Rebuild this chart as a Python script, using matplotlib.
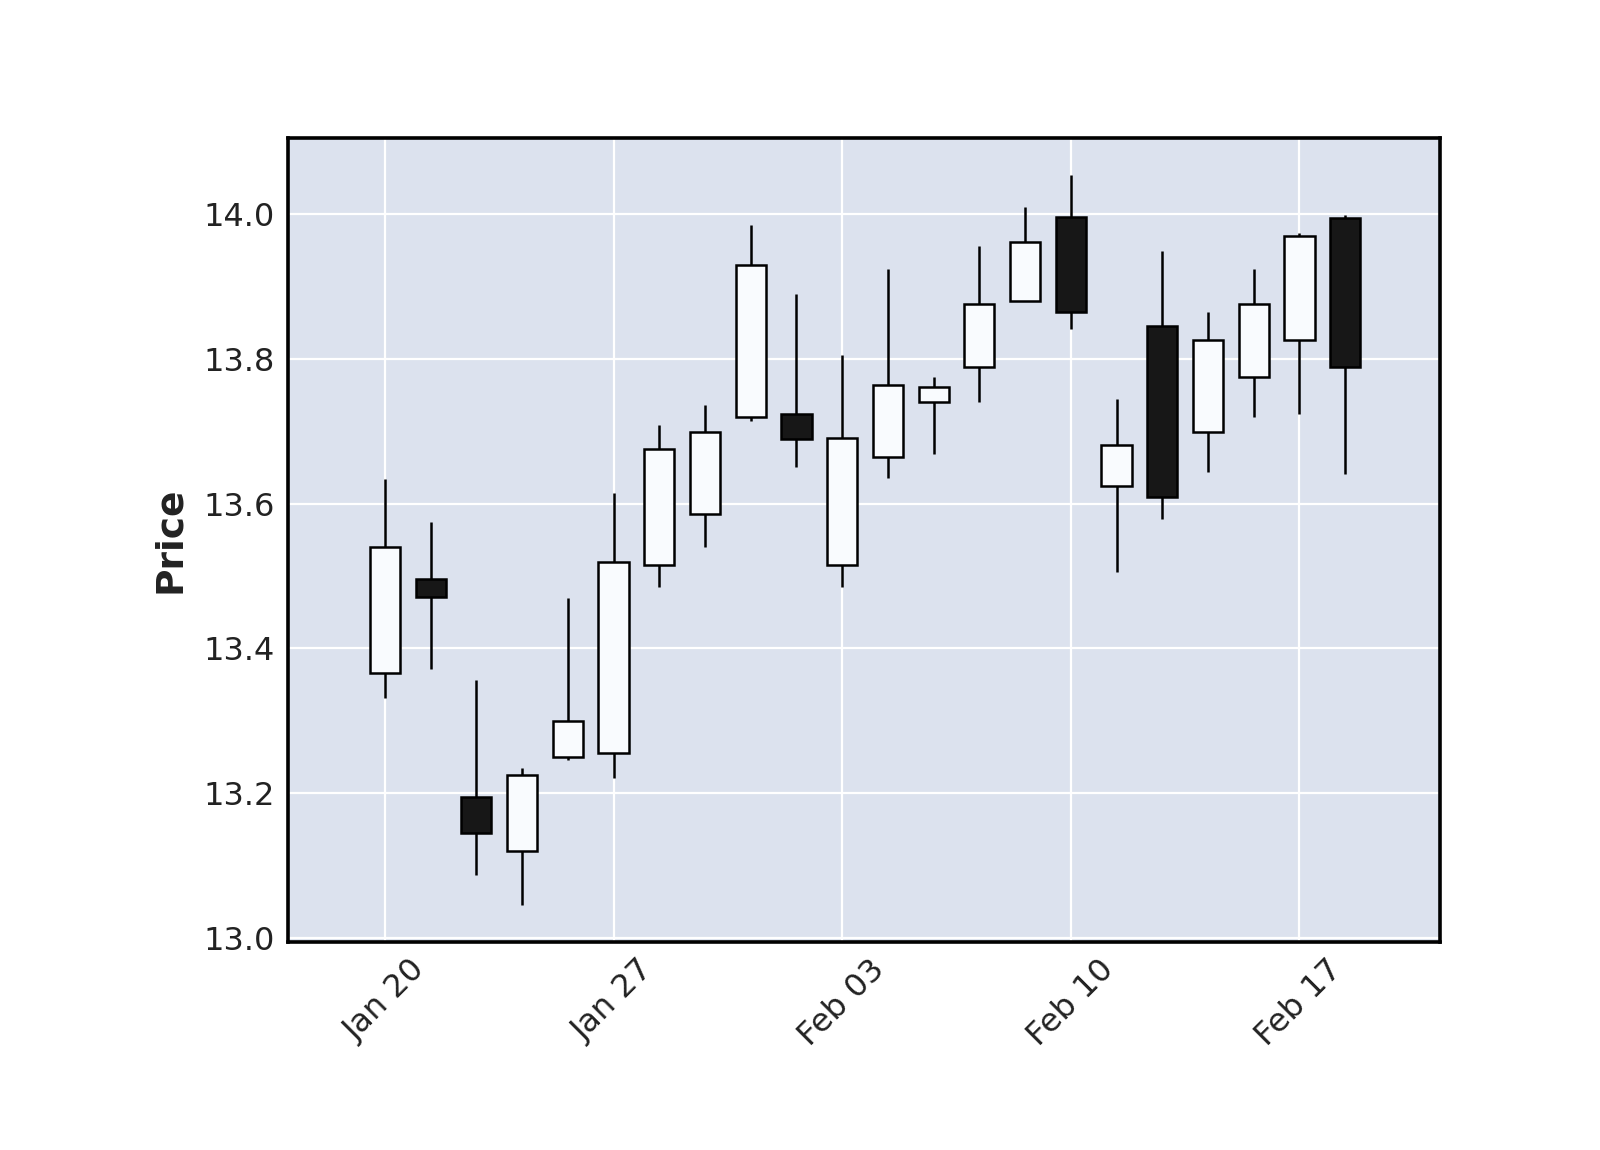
from matplotlib import pyplot as plt
import numpy as np

# Daily OHLC, business days only (Jan 20 - Feb 18)
dates = ['Jan 20', 'Jan 21', 'Jan 22', 'Jan 23', 'Jan 24',
         'Jan 27', 'Jan 28', 'Jan 29', 'Jan 30', 'Jan 31',
         'Feb 03', 'Feb 04', 'Feb 05', 'Feb 06', 'Feb 07',
         'Feb 10', 'Feb 11', 'Feb 12', 'Feb 13', 'Feb 14',
         'Feb 17', 'Feb 18']
opens  = [13.366, 13.496, 13.195, 13.121, 13.250, 13.256, 13.515, 13.585, 13.720, 13.724, 13.515,
          13.665, 13.740, 13.789, 13.880, 13.996, 13.624, 13.845, 13.699, 13.775, 13.826, 13.994]
highs  = [13.634, 13.575, 13.357, 13.235, 13.470, 13.615, 13.709, 13.736, 13.985, 13.889, 13.805,
          13.924, 13.775, 13.955, 14.010, 14.053, 13.745, 13.949, 13.865, 13.924, 13.973, 13.999]
lows   = [13.331, 13.371, 13.087, 13.046, 13.246, 13.221, 13.485, 13.540, 13.714, 13.651, 13.485,
          13.636, 13.669, 13.740, 13.880, 13.841, 13.505, 13.579, 13.644, 13.720, 13.724, 13.641]
closes = [13.540, 13.471, 13.145, 13.225, 13.300, 13.520, 13.675, 13.699, 13.930, 13.689, 13.691,
          13.764, 13.761, 13.875, 13.961, 13.865, 13.681, 13.609, 13.826, 13.875, 13.970, 13.789]

tick_idx = [0, 5, 10, 15, 20]

o, h, l, c = map(np.array, (opens, highs, lows, closes))
x = np.arange(len(dates))
up = c >= o

fig = plt.figure(figsize=(16, 11.5), dpi=100)
ax = fig.add_axes([0.1797, 0.1810, 0.7202, 0.6992])
ax.set_facecolor('#DCE2EE')
ax.set_axisbelow(True)
ax.grid(True, color='white', linewidth=1.6)

# wicks then bodies
ax.vlines(x, l, h, color='black', linewidth=1.8, zorder=2)
body_colors = np.where(up, '#F9FBFE', '#171717')
ax.bar(x, np.abs(c - o), bottom=np.minimum(o, c), width=0.66,
       color=body_colors, edgecolor='black', linewidth=1.8, zorder=3)

ax.set_xlim(-2.13, 23.07)
ax.set_ylim(12.995, 14.105)
ax.set_yticks([13.0, 13.2, 13.4, 13.6, 13.8, 14.0])
ax.set_xticks(tick_idx)
ax.set_xticklabels([dates[i] for i in tick_idx], rotation=45, ha='center')

ax.tick_params(axis='both', length=0, labelsize=23, colors='#222222', pad=9)
ax.set_ylabel('Price', fontsize=27, fontweight='bold', color='#222222', labelpad=11)

for s in ax.spines.values():
    s.set_linewidth(2.6)
    s.set_color('black')

fig.savefig('out.png', dpi=100)
